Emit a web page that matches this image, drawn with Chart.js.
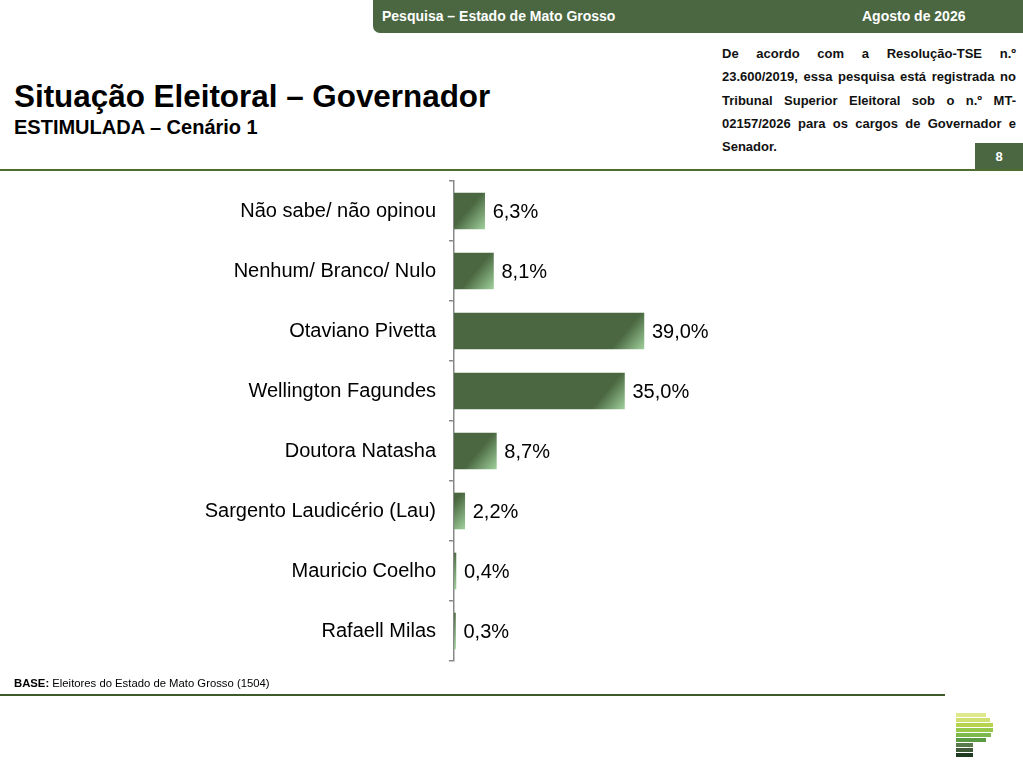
<!DOCTYPE html>
<html lang="pt-BR">
<head>
<meta charset="utf-8">
<title>Situação Eleitoral – Governador</title>
<script src="https://cdn.jsdelivr.net/npm/chart.js@4.4.1/dist/chart.umd.min.js"></script>
<style>
  html, body { margin: 0; padding: 0; background: #fff; }
  body { width: 1023px; height: 768px; position: relative; overflow: hidden; font-family: "Liberation Sans", Arial, sans-serif; }
  .topbar { position: absolute; left: 373px; top: 0; width: 650px; height: 33px; background: #4a6741; border-bottom-left-radius: 7px; color: #fff; font-family: "Liberation Sans Narrow", "Arial Narrow", "Liberation Sans", sans-serif; font-weight: bold; font-size: 14px; }
  .topbar .l { position: absolute; left: 9px; top: 8px; }
  .topbar .r { position: absolute; left: 489px; top: 8px; }
  h1 { position: absolute; left: 14px; top: 79px; margin: 0; font-size: 31.4px; font-weight: bold; color: #000; }
  h2 { position: absolute; left: 14px; top: 116px; margin: 0; font-size: 20px; font-weight: bold; color: #000; }
  .note { position: absolute; left: 722px; top: 42px; width: 294px; font-family: "Liberation Sans Narrow", "Arial Narrow", "Liberation Sans", sans-serif; font-weight: bold; font-size: 13px; line-height: 23.3px; text-align: justify; color: #111; }
  .page { position: absolute; left: 975px; top: 143px; width: 48px; height: 27px; background: #4a6741; color: #fff; font-weight: bold; font-size: 13px; text-align: center; line-height: 27px; }
  .rule { position: absolute; left: 0; top: 169px; width: 1023px; height: 1.5px; background: #4e6e2e; }
  #wrap { position: absolute; left: 0; top: 156px; width: 1023px; height: 530px; }
  .base { position: absolute; left: 14px; top: 677px; font-size: 11.3px; color: #000; }
  .foot { position: absolute; left: 0; top: 694px; width: 945px; height: 1.5px; background: #3e5a2a; }
  .logo div { position: absolute; left: 956px; height: 4px; }
</style>
</head>
<body>
<div class="topbar"><span class="l">Pesquisa – Estado de Mato Grosso</span><span class="r">Agosto de 2026</span></div>
<h1>Situação Eleitoral – Governador</h1>
<h2>ESTIMULADA – Cenário 1</h2>
<div class="note">De acordo com a Resolução-TSE n.º 23.600/2019, essa pesquisa está registrada no Tribunal Superior Eleitoral sob o n.º MT-02157/2026 para os cargos de Governador e Senador.</div>
<div class="page">8</div>
<div class="rule"></div>
<div id="wrap"><canvas id="chart"></canvas></div>
<div class="base"><b>BASE:</b> Eleitores do Estado de Mato Grosso (1504)</div>
<div class="foot"></div>
<div class="logo">
  <div style="top:713px;width:30px;background:#dfe88a"></div>
  <div style="top:718px;width:34px;background:#cfe070"></div>
  <div style="top:723px;width:37px;background:#b5d34c"></div>
  <div style="top:728px;width:37px;background:#98c84a"></div>
  <div style="top:733px;width:35px;background:#7cb84a"></div>
  <div style="top:738px;width:30px;background:#5a9a40"></div>
  <div style="top:743px;width:17px;background:#587a4a"></div>
  <div style="top:748px;width:17px;background:#3e5a38"></div>
  <div style="top:753px;width:17px;background:#1e3a20"></div>
</div>
<script>
// categories and values
const candidates = ["Não sabe/ não opinou", "Nenhum/ Branco/ Nulo", "Otaviano Pivetta", "Wellington Fagundes",
  "Doutora Natasha", "Sargento Laudicério (Lau)", "Mauricio Coelho", "Rafaell Milas"];
const percents = [6.3, 8.1, 39.0, 35.0, 8.7, 2.2, 0.4, 0.3];

const darkGreen = "#4a6741";
const lightGreen = "#9fcf9b";

// diagonal shading towards the bottom-right corner of each bar
function barFill(c) {
  const chart = c.chart;
  const xs = chart.scales.x, ys = chart.scales.y;
  if (!xs || !ys || !chart.chartArea) return darkGreen;
  const x0 = xs.getPixelForValue(0);
  const x1 = xs.getPixelForValue(c.raw);
  const yc = ys.getPixelForValue(c.dataIndex);
  const h = 36;
  const g = chart.ctx.createLinearGradient(x1 - h * 1.2, yc - h / 2, x1, yc + h / 2);
  g.addColorStop(0, darkGreen);
  g.addColorStop(0.55, darkGreen);
  g.addColorStop(1, lightGreen);
  return g;
}

const valueLabels = {
  id: "valueLabels",
  afterDatasetsDraw(chart) {
    const ctx = chart.ctx;
    ctx.save();
    ctx.font = "20px 'Liberation Sans', Arial, sans-serif";
    ctx.fillStyle = "#000";
    ctx.textAlign = "left";
    ctx.textBaseline = "middle";
    chart.getDatasetMeta(0).data.forEach((bar, i) => {
      ctx.fillText(percents[i].toFixed(1).replace(".", ",") + "%", bar.x + 8, bar.y + 1);
    });
    ctx.restore();
  }
};

new Chart(document.getElementById("chart"), {
  type: "bar",
  data: {
    labels: candidates,
    datasets: [{
      data: percents,
      backgroundColor: barFill,
      borderWidth: 0,
      barThickness: 36
    }]
  },
  options: {
    indexAxis: "y",
    responsive: true,
    maintainAspectRatio: false,
    animation: false,
    layout: { padding: { top: 10, bottom: 10, right: 82, left: 0 } },
    plugins: { legend: { display: false }, tooltip: { enabled: false } },
    scales: {
      x: { display: false, min: 0, max: 100 },
      y: {
        afterFit(scale) { scale.width = 454; },
        border: { color: "#888", width: 1.5 },
        grid: { offset: true, drawOnChartArea: false, tickLength: 5, color: "#888", lineWidth: 1.5 },
        ticks: { color: "#000", padding: 13, font: { family: "'Liberation Sans', Arial, sans-serif", size: 20 } }
      }
    }
  },
  plugins: [valueLabels]
});
</script>
</body>
</html>
